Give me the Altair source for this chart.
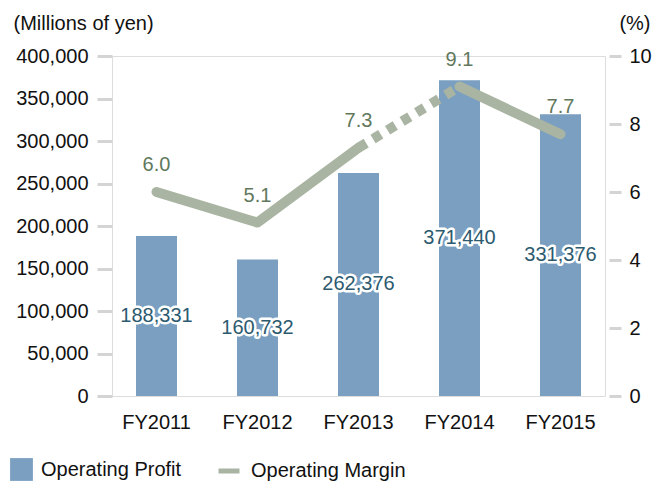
import altair as alt
import pandas as pd

years = ["FY2011", "FY2012", "FY2013", "FY2014", "FY2015"]
profit = [188331, 160732, 262376, 371440, 331376]
margin = [6.0, 5.1, 7.3, 9.1, 7.7]
profit_ticks = [0, 50000, 100000, 150000, 200000, 250000, 300000, 350000, 400000]
margin_ticks = [0, 2, 4, 6, 8, 10]

BAR = "#7a9fc0"
LINE = "#a9b5a2"
LINE_TXT = "#61785c"
BAR_TXT = "#2c5a6f"
FONT = "Liberation Sans"

bar_df = pd.DataFrame({"year": years, "profit": profit,
                       "label": [f"{v:,}" for v in profit],
                       "series": "Operating Profit"})

# solid pieces: FY2011-FY2013 and FY2014-FY2015 ; dashed: FY2013-FY2014
solid_rows = []
for seg, idx in (("a", [0, 1, 2]), ("b", [3, 4])):
    for i in idx:
        solid_rows.append({"year": years[i], "margin": margin[i], "seg": seg,
                           "series": "Operating Margin"})
solid_df = pd.DataFrame(solid_rows)
dash_df = pd.DataFrame({"year": [years[2], years[3]], "margin": [margin[2], margin[3]]})
lab_df = pd.DataFrame({"year": years, "margin": margin,
                       "label": [f"{m:.1f}" for m in margin]})

x_enc = alt.X("year:N", sort=years,
              scale=alt.Scale(paddingInner=0.594, paddingOuter=0.2376),
              axis=alt.Axis(labelAngle=0, ticks=False, domain=False, title=None,
                            labelFontSize=20, labelPadding=16, labelColor="#111"))
x_plain = alt.X("year:N", sort=years)

profit_scale = alt.Scale(domain=[0, 400000], nice=False)

y_left = alt.Y("profit:Q", scale=profit_scale,
               axis=alt.Axis(values=profit_ticks, format=",d", tickSize=15, tickWidth=3,
                             tickColor="#d4d4d4", domain=False, grid=False,
                             labelPadding=9, labelFontSize=20, labelColor="#111",
                             title="(Millions of yen)", titleAngle=0, titleX=-99,
                             titleY=-27, titleAlign="left", titleBaseline="alphabetic",
                             titleFontWeight="normal", titleFontSize=20,
                             titleColor="#111"))

bars = alt.Chart(bar_df).mark_bar(color=BAR).encode(
    x=x_enc, y=y_left,
    color=alt.Color("series:N",
                    scale=alt.Scale(domain=["Operating Profit"], range=[BAR]),
                    legend=alt.Legend(orient="none", legendX=-102, legendY=402,
                                      title=None, symbolType="square",
                                      symbolSize=520, symbolStrokeWidth=0,
                                      labelFontSize=20, labelColor="#111",
                                      labelOffset=8, labelFont=FONT)))

bar_halo = alt.Chart(bar_df).mark_text(
    fontSize=20, color=BAR_TXT, stroke="white", strokeWidth=5, strokeJoin="round",
    font=FONT).encode(
    x=x_plain, y=alt.Y("mid:Q", scale=profit_scale, axis=None), text="label:N"
).transform_calculate(mid="datum.profit / 2")

bar_text = alt.Chart(bar_df).mark_text(fontSize=20, color=BAR_TXT, font=FONT).encode(
    x=x_plain, y=alt.Y("mid:Q", scale=profit_scale, axis=None), text="label:N"
).transform_calculate(mid="datum.profit / 2")

y_right = alt.Y("margin:Q",
                scale=alt.Scale(domain=[0, 10], nice=False),
                axis=alt.Axis(orient="right", values=margin_ticks, offset=4,
                              tickSize=12, tickWidth=3, tickColor="#d4d4d4",
                              domain=False, grid=False, labelPadding=8,
                              labelFontSize=20, labelColor="#111",
                              title="(%)", titleAngle=0, titleX=41, titleY=-27,
                              titleAlign="right", titleBaseline="alphabetic",
                              titleFontWeight="normal", titleFontSize=20,
                              titleColor="#111"))

line_solid = alt.Chart(solid_df).mark_line(strokeWidth=10, strokeCap="round",
                                           strokeJoin="round").encode(
    x=x_plain, y=y_right, detail="seg:N",
    stroke=alt.Stroke("series:N",
                      scale=alt.Scale(domain=["Operating Margin"], range=[LINE]),
                      legend=alt.Legend(orient="none", legendX=104, legendY=402,
                                        title=None, symbolType="stroke",
                                        symbolSize=441, symbolStrokeWidth=5,
                                        labelFontSize=20, labelColor="#111",
                                        labelOffset=9, labelFont=FONT)))

line_dash = alt.Chart(dash_df).mark_line(strokeWidth=10, strokeCap="butt",
                                         strokeDash=[9, 8], color=LINE).encode(
    x=x_plain, y=alt.Y("margin:Q"))

line_text = alt.Chart(lab_df).mark_text(fontSize=20, color=LINE_TXT, dy=-21,
                                        baseline="alphabetic", font=FONT).encode(
    x=x_plain, y=alt.Y("margin:Q"), text="label:N")

chart = alt.layer(
    bars,
    alt.layer(line_solid, line_dash, line_text),
    alt.layer(bar_halo, bar_text),
).resolve_scale(y="independent").properties(
    width=493, height=340,
    autosize=alt.AutoSizeParams(type="none"),
    padding={"left": 104, "top": 48, "right": 49, "bottom": 88},
).configure_view(stroke=None).configure(font=FONT)

chart.save("out.html", embed_options={"renderer": "svg", "actions": False})
